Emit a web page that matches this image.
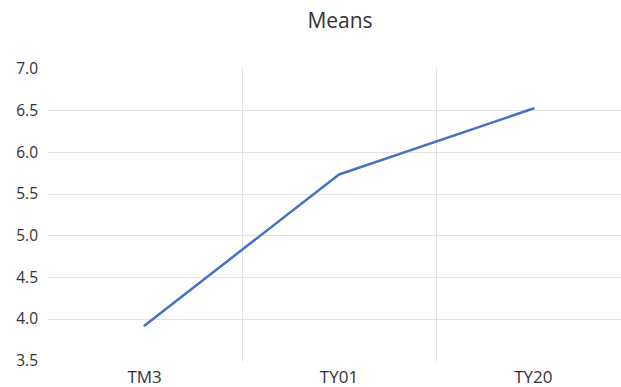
<!DOCTYPE html>
<html>
<head>
<meta charset="utf-8">
<script src="https://cdn.jsdelivr.net/npm/d3@7"></script>
<style>
  body { margin: 0; background: #fff; }
  text { font-family: "Open Sans", "Liberation Sans", sans-serif; fill: #333; }
</style>
</head>
<body>
<div id="chart"></div>
<script>
const categories = ["TM3", "TY01", "TY20"];
const means = [3.92, 5.73, 6.52];
const yTicks = [3.5, 4.0, 4.5, 5.0, 5.5, 6.0, 6.5, 7.0];

const width = 621;
const height = 387;
const margin = { top: 68.5, left: 47.5, bottom: 26.5 };
const plotRight = 630.5;

const svg = d3
  .select("#chart")
  .append("svg")
  .attr("width", width)
  .attr("height", height);

const x = d3
  .scaleBand()
  .domain(categories)
  .range([margin.left, plotRight]);

const y = d3
  .scaleLinear()
  .domain([3.5, 7.0])
  .range([height - margin.bottom, margin.top]);

// horizontal gridlines (none at top and bottom)
svg
  .append("g")
  .selectAll("line")
  .data(yTicks.slice(1, -1))
  .join("line")
  .attr("x1", margin.left)
  .attr("x2", plotRight)
  .attr("y1", (d) => Math.round(y(d)) + 0.5)
  .attr("y2", (d) => Math.round(y(d)) + 0.5)
  .attr("stroke", "#e3e3e3")
  .attr("stroke-width", 1);

// vertical gridlines between categories
svg
  .append("g")
  .selectAll("line")
  .data(categories.slice(1))
  .join("line")
  .attr("x1", (d) => Math.round(x(d)) + 0.5)
  .attr("x2", (d) => Math.round(x(d)) + 0.5)
  .attr("y1", margin.top)
  .attr("y2", height - margin.bottom + 1)
  .attr("stroke", "#e3e3e3")
  .attr("stroke-width", 1);

// y tick labels
svg
  .append("g")
  .selectAll("text")
  .data(yTicks)
  .join("text")
  .attr("x", 38)
  .attr("y", (d) => y(d))
  .attr("dy", "0.36em")
  .attr("text-anchor", "end")
  .style("font-size", "15.5px")
  .text((d) => d.toFixed(1));

// category labels
svg
  .append("g")
  .selectAll("text")
  .data(categories)
  .join("text")
  .attr("x", (d) => x(d) + x.bandwidth() / 2)
  .attr("y", 383)
  .attr("text-anchor", "middle")
  .style("font-size", "17px")
  .text((d) => d);

// line
const line = d3
  .line()
  .x((d, i) => x(categories[i]) + x.bandwidth() / 2)
  .y((d) => y(d));

svg
  .append("path")
  .datum(means)
  .attr("d", line)
  .attr("fill", "none")
  .attr("stroke", "#4472c4")
  .attr("stroke-width", 2.5)
  .attr("stroke-linejoin", "round")
  .attr("stroke-linecap", "round");

// title
svg
  .append("text")
  .attr("x", 340)
  .attr("y", 28)
  .attr("text-anchor", "middle")
  .style("font-size", "21px")
  .text("Means");
</script>
</body>
</html>
